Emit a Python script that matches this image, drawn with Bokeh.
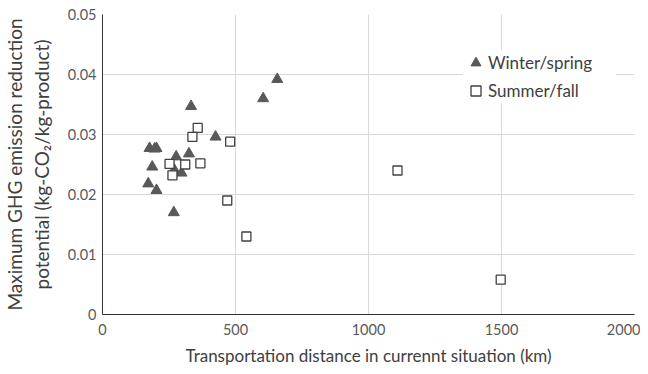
from bokeh.plotting import figure
from bokeh.models import FixedTicker, Legend, LegendItem
from bokeh.embed import file_html
from bokeh.resources import INLINE

# Winter/spring series
winter_x = [657, 604, 333, 425, 177, 196, 203, 325, 277, 187, 270, 297, 172, 203, 268]
winter_y = [0.0392, 0.0360, 0.0347, 0.0296, 0.0277, 0.0276, 0.0277, 0.0268, 0.0263,
            0.0246, 0.0241, 0.0236, 0.0218, 0.0207, 0.0170]

# Summer/fall series
summer_x = [358, 338, 480, 252, 311, 368, 263, 469, 541, 1109, 1497]
summer_y = [0.0311, 0.0296, 0.0288, 0.0251, 0.0250, 0.0252, 0.0232, 0.0190, 0.0130,
            0.0240, 0.0058]

x_ticks = [0, 500, 1000, 1500, 2000]
y_ticks = [0, 0.01, 0.02, 0.03, 0.04, 0.05]
y_tick_labels = ["0", "0.01", "0.02", "0.03", "0.04", "0.05"]

FONT = "Lato"
TEXT = "#404040"
TICK = "#595959"

p = figure(frame_width=532, frame_height=300, x_range=(0, 2000), y_range=(0, 0.05),
           output_backend="svg", toolbar_location=None,
           min_border_left=94, min_border_right=6, min_border_top=14, min_border_bottom=52)
p.outline_line_color = None
p.background_fill_color = "white"
p.border_fill_color = "white"

p.xaxis.ticker = FixedTicker(ticks=x_ticks)
p.yaxis.ticker = FixedTicker(ticks=y_ticks)
p.xgrid.ticker = FixedTicker(ticks=x_ticks)
p.ygrid.ticker = FixedTicker(ticks=y_ticks)
p.yaxis.major_label_overrides = {t: l for t, l in zip(y_ticks, y_tick_labels)}

for g in (p.xgrid, p.ygrid):
    g.grid_line_color = "#d9d9d9"
    g.grid_line_width = 1

for ax in (p.xaxis, p.yaxis):
    ax.axis_line_color = "#333333"
    ax.axis_line_width = 1
    ax.major_tick_line_color = None
    ax.minor_tick_line_color = None
    ax.major_tick_out = 0
    ax.major_tick_in = 0
    ax.minor_tick_out = 0
    ax.minor_tick_in = 0
    ax.major_label_text_font = FONT
    ax.major_label_text_font_size = "14.5px"
    ax.major_label_text_color = TICK
    ax.axis_label_text_font = FONT
    ax.axis_label_text_color = TEXT
    ax.axis_label_text_font_style = "normal"

p.xaxis.axis_label = "Transportation distance in currennt situation (km)"
p.xaxis.axis_label_text_font_size = "17px"
p.xaxis.major_label_standoff = 9
p.xaxis.axis_label_standoff = 7

p.yaxis.axis_label = "Maximum GHG emission reduction\npotential (kg-CO\u2082/kg-product)"
p.yaxis.axis_label_text_font_size = "19px"
p.yaxis.axis_label_text_line_height = 1.15
p.yaxis.major_label_standoff = 6
p.yaxis.axis_label_standoff = 12

r1 = p.scatter(winter_x, winter_y, marker="triangle", size=11,
               fill_color="#595959", line_color="#595959", line_width=1)
r2 = p.scatter(summer_x, summer_y, marker="square", size=9,
               fill_color="white", line_color="#404040", line_width=1.3)

legend = Legend(items=[LegendItem(label="Winter/spring", renderers=[r1]),
                       LegendItem(label="Summer/fall", renderers=[r2])],
                location=(361, 211), margin=0, padding=6, spacing=3,
                glyph_width=25, glyph_height=25, label_height=25,
                label_standoff=0, label_width=128,
                label_text_font=FONT, label_text_font_size="17px",
                label_text_color=TEXT, border_line_color=None,
                background_fill_color="white", background_fill_alpha=1.0)
p.add_layout(legend)

open("out.html", "w").write(file_html(p, INLINE))
